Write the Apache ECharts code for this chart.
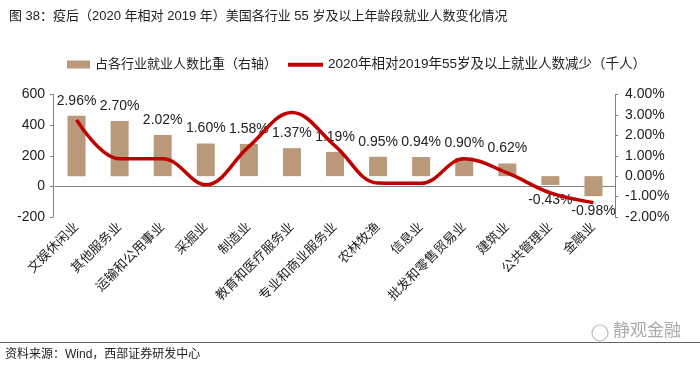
<!DOCTYPE html>
<html><head><meta charset="utf-8">
<script src="https://cdn.jsdelivr.net/npm/echarts@6/dist/echarts.min.js"></script>
<style>html,body{margin:0;padding:0;background:#fff}#c{width:700px;height:368px}</style>
</head><body><div id="c"></div>
<script>
const categories = ['文娱休闲业','其他服务业','运输和公用事业','采掘业','制造业','教育和医疗服务业','专业和商业服务业','农林牧渔','信息业','批发和零售贸易业','建筑业','公共管理业','金融业'];
const shareValues = [2.96, 2.70, 2.02, 1.60, 1.58, 1.37, 1.19, 0.95, 0.94, 0.90, 0.62, -0.43, -0.98];
const declineValues = [434, 180, 180, 10, 260, 483, 265, 22, 20, 180, 88, -43, -106];
const leftTicks = {min: -200, max: 600, interval: 200};
const rightTicks = {min: -2, max: 4, interval: 1};
const seriesNames = ['占各行业就业人数比重（右轴）', '2020年相对2019年55岁及以上就业人数减少（千人）'];
const titleText = '图 38：疫后（2020 年相对 2019 年）美国各行业 55 岁及以上年龄段就业人数变化情况';
const sourceText = '资料来源：Wind，西部证券研发中心';
const watermarkText = '静观金融';

const FONT = '"Liberation Sans", "Noto Sans CJK SC", sans-serif';
const TXT = '#222';
const AX = '#808080';

const chart = echarts.init(document.getElementById('c'), null, {renderer: 'canvas'});
chart.setOption({
  animation: false,
  textStyle: {fontFamily: FONT},
  title: {text: titleText, left: 4, top: 5, textStyle: {fontSize: 13, fontWeight: 'normal', color: TXT, fontFamily: FONT}},
  legend: [
    {data: [seriesNames[0]], left: 62, top: 53, icon: 'rect', itemWidth: 23, itemHeight: 8,
     textStyle: {fontSize: 13, color: TXT, fontFamily: FONT}},
    {data: [seriesNames[1]], left: 283, top: 53, icon: 'rect', itemWidth: 35, itemHeight: 4,
     textStyle: {fontSize: 13.5, color: TXT, fontFamily: FONT}}
  ],
  grid: {left: 55, right: 85, top: 94.5, bottom: 151, outerBoundsMode: 'none'},
  xAxis: [
    {type: 'category', data: categories, position: 'bottom',
     axisLine: {show: true, onZero: true, onZeroAxisIndex: 0, lineStyle: {color: AX, width: 1}},
     axisTick: {show: false}, axisLabel: {show: false}},
    {type: 'category', data: categories, position: 'bottom',
     axisLine: {show: false, onZero: false}, axisTick: {show: false},
     axisLabel: {rotate: 45, interval: 0, fontSize: 13, color: TXT, margin: 8, fontFamily: FONT}}
  ],
  yAxis: [
    {type: 'value', position: 'left', min: leftTicks.min, max: leftTicks.max, interval: leftTicks.interval, offset: 2,
     axisLine: {show: true, lineStyle: {color: AX}}, axisTick: {show: true, length: 3, lineStyle: {color: AX}},
     axisLabel: {fontSize: 14, color: TXT, margin: 8, fontFamily: FONT}, splitLine: {show: false}},
    {type: 'value', position: 'right', min: rightTicks.min, max: rightTicks.max, interval: rightTicks.interval,
     axisLine: {show: true, lineStyle: {color: AX}}, axisTick: {show: true, length: 3, lineStyle: {color: AX}},
     axisLabel: {fontSize: 14, color: TXT, margin: 10, fontFamily: FONT, formatter: v => v.toFixed(2) + '%'},
     splitLine: {show: false}}
  ],
  series: [
    {name: seriesNames[0], type: 'bar', xAxisIndex: 0, yAxisIndex: 1, barWidth: 18, z: 2,
     itemStyle: {color: '#B9997A'},
     data: shareValues.map(v => ({value: v, label: {position: v < 0 ? 'bottom' : 'top'}})),
     label: {show: true, distance: 8, fontSize: 14, color: TXT, fontFamily: FONT,
             formatter: p => p.value.toFixed(2) + '%'}},
    {name: seriesNames[1], type: 'line', xAxisIndex: 0, yAxisIndex: 0, data: declineValues, z: 5,
     smooth: 0.38, showSymbol: false, symbol: 'none',
     itemStyle: {color: '#C00000'}, lineStyle: {color: '#C00000', width: 3.5}}
  ],
  graphic: [
    {type: 'line', shape: {x1: 0, y1: 342.5, x2: 700, y2: 342.5}, style: {stroke: '#666', lineWidth: 1}, z: 1},
    {type: 'circle', shape: {cx: 600, cy: 333, r: 8}, style: {fill: '#fff', stroke: '#bbb', lineWidth: 1.2}, z: 2},
    {type: 'text', left: 613, top: 323, style: {text: watermarkText, fontSize: 17, fill: '#aaa', fontFamily: FONT}, z: 2},
    {type: 'text', left: 5, top: 349, style: {text: sourceText, fontSize: 12, fill: TXT, fontFamily: FONT}}
  ]
});
</script></body></html>
